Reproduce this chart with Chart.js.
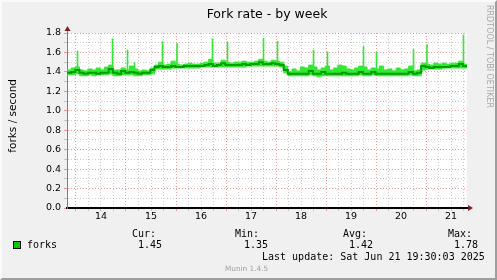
<!DOCTYPE html>
<html>
<head>
<meta charset="utf-8">
<script src="https://cdn.jsdelivr.net/npm/chart.js@4.4.1/dist/chart.umd.min.js"></script>
<style>
  html, body { margin: 0; padding: 0; background: #f0f0f0; }
  #wrap { position: relative; width: 497px; height: 280px; background: #f0f0f0; overflow: hidden; }
  #wrap canvas { position: absolute; left: 0; top: 0; }
  .txt { position: absolute; white-space: pre; color: #000; }
  .mono { font-family: 'DejaVu Sans Mono', monospace; font-size: 10px; line-height: 12px; }
  #frame { position: absolute; left: 0; top: 0; width: 497px; height: 280px; box-sizing: border-box;
           border-style: solid; border-width: 2px; border-color: #fafafa #9e9e9e #9e9e9e #fafafa; pointer-events: none; }
</style>
</head>
<body>
<div id="wrap">
  <canvas id="chart" width="497" height="280"></canvas>

  <div class="txt" style="left:167px;top:6px;width:200px;text-align:center;font:12.5px 'DejaVu Sans';line-height:15px;">Fork rate - by week</div>
  <div class="txt" style="left:6px;top:79px;writing-mode:vertical-rl;transform:rotate(180deg);font:10.5px 'DejaVu Sans';line-height:12px;">forks / second</div>
  <div class="txt" style="left:484px;top:5px;writing-mode:vertical-rl;font:8px 'DejaVu Sans';line-height:10px;color:#a8a8a8;">RRDTOOL / TOBI OETIKER</div>

  <div style="position:absolute;left:13px;top:241px;width:6px;height:6px;border:1px solid #000;background:#00cc00;"></div>
  <div class="txt mono" style="left:27px;top:238.5px;">forks</div>
  <div class="txt mono" style="left:132px;top:227.5px;">Cur:</div>
  <div class="txt mono" style="left:138px;top:238.5px;">1.45</div>
  <div class="txt mono" style="left:235px;top:227.5px;">Min:</div>
  <div class="txt mono" style="left:244px;top:238.5px;">1.35</div>
  <div class="txt mono" style="left:343px;top:227.5px;">Avg:</div>
  <div class="txt mono" style="left:349px;top:238.5px;">1.42</div>
  <div class="txt mono" style="left:448px;top:227.5px;">Max:</div>
  <div class="txt mono" style="left:454px;top:238.5px;">1.78</div>
  <div class="txt mono" style="left:262px;top:251px;">Last update: Sat Jun 21 19:30:03 2025</div>
  <div class="txt" style="left:225px;top:264px;font:7.3px 'DejaVu Sans';line-height:9px;color:#a0a0a0;">Munin 1.4.5</div>

  <div id="frame"></div>
</div>

<script>
// time axis: day of month, midnight = whole number
const xMin = 13.82;
const xMax = 21.82;
const sampleStart = 13.82;
const sampleStep = 1 / 12; // one sample every 2 hours
const dayLabels = ['14', '15', '16', '17', '18', '19', '20', '21'];

// 2-hourly averages (dark line)
const forksAvg = [
  1.39, 1.39, 1.40, 1.42, 1.39, 1.38, 1.39, 1.39, 1.38, 1.39, 1.39, 1.43, 1.39, 1.38, 1.41, 1.39, 1.40, 1.39, 1.38, 1.39, 1.39, 1.42,
  1.45, 1.46, 1.45, 1.45, 1.46, 1.45, 1.45, 1.46, 1.46, 1.46, 1.46, 1.46, 1.47, 1.48, 1.46, 1.47, 1.49, 1.47, 1.47, 1.47, 1.47, 1.48, 1.47, 1.48, 1.48, 1.50, 1.48, 1.48, 1.49, 1.48, 1.47, 1.42,
  1.38, 1.38, 1.38, 1.38, 1.38, 1.41, 1.38, 1.38, 1.40, 1.38, 1.38, 1.38, 1.38, 1.39, 1.38, 1.38, 1.38, 1.40, 1.38, 1.38, 1.40, 1.38, 1.38, 1.38, 1.38, 1.38, 1.38, 1.38, 1.38, 1.40, 1.38, 1.39,
  1.46, 1.45, 1.44, 1.45, 1.45, 1.45, 1.45, 1.46, 1.46, 1.48, 1.46
];
// upper edge of the light band
const forksHigh = [
  1.41, 1.42, 1.44, 1.45, 1.42, 1.41, 1.43, 1.42, 1.44, 1.42, 1.45, 1.47, 1.42, 1.42, 1.44, 1.42, 1.46, 1.43, 1.41, 1.42, 1.41, 1.44,
  1.47, 1.50, 1.47, 1.48, 1.51, 1.48, 1.47, 1.48, 1.49, 1.48, 1.48, 1.49, 1.50, 1.53, 1.49, 1.49, 1.52, 1.50, 1.49, 1.50, 1.50, 1.51, 1.50, 1.50, 1.51, 1.53, 1.51, 1.50, 1.52, 1.51, 1.50, 1.46,
  1.40, 1.43, 1.41, 1.45, 1.44, 1.47, 1.45, 1.42, 1.44, 1.46, 1.42, 1.44, 1.47, 1.46, 1.43, 1.42, 1.44, 1.46, 1.45, 1.42, 1.44, 1.43, 1.46, 1.42, 1.43, 1.41, 1.44, 1.42, 1.43, 1.46, 1.41, 1.42,
  1.49, 1.48, 1.47, 1.49, 1.48, 1.49, 1.48, 1.49, 1.49, 1.51, 1.48
];
// lower edge of the light band
const forksLow = [
  1.37, 1.37, 1.37, 1.38, 1.36, 1.36, 1.37, 1.36, 1.37, 1.37, 1.37, 1.38, 1.36, 1.36, 1.37, 1.37, 1.37, 1.36, 1.36, 1.37, 1.37, 1.38,
  1.43, 1.43, 1.43, 1.43, 1.44, 1.44, 1.44, 1.44, 1.44, 1.44, 1.44, 1.45, 1.45, 1.45, 1.45, 1.45, 1.45, 1.45, 1.45, 1.45, 1.45, 1.45, 1.46, 1.46, 1.46, 1.46, 1.46, 1.46, 1.46, 1.46, 1.45, 1.39,
  1.36, 1.36, 1.36, 1.36, 1.36, 1.37, 1.36, 1.35, 1.36, 1.36, 1.36, 1.36, 1.36, 1.36, 1.36, 1.36, 1.36, 1.37, 1.36, 1.36, 1.37, 1.36, 1.36, 1.36, 1.36, 1.36, 1.36, 1.36, 1.36, 1.37, 1.36, 1.36,
  1.42, 1.43, 1.43, 1.43, 1.43, 1.44, 1.44, 1.44, 1.44, 1.44, 1.44
];

// short peaks (twice a day)
const spikeTimes = [14.03, 14.73, 15.03, 15.17, 15.73, 16.02, 16.73, 17.03, 17.75, 18.03, 18.75, 19.03, 19.75, 20.01, 20.75, 21.02, 21.75];
const spikeBase  = [1.40, 1.43, 1.41, 1.40, 1.46, 1.46, 1.48, 1.49, 1.50, 1.49, 1.41, 1.40, 1.40, 1.40, 1.40, 1.46, 1.48];
const spikeTop   = [1.615, 1.74, 1.625, 1.495, 1.71, 1.69, 1.74, 1.71, 1.745, 1.715, 1.625, 1.605, 1.66, 1.60, 1.63, 1.68, 1.78];

const bandColor = '#33e833';
const lineColor = '#009f00';

const toPoints = arr => arr.map((v, i) => ({ x: sampleStart + i * sampleStep, y: v }));

const rrdPlugin = {
  id: 'rrd',
  beforeDraw(chart) {
    const { ctx, chartArea: a } = chart;
    ctx.save();
    ctx.fillStyle = '#ffffff';
    ctx.fillRect(a.left, a.top, a.right - a.left, a.bottom - a.top);
    ctx.restore();
  },
  afterDraw(chart) {
    const { ctx, chartArea: a } = chart;
    ctx.save();
    // axis stubs beyond the canvas
    ctx.strokeStyle = '#7f7f7f';
    ctx.lineWidth = 1;
    ctx.beginPath();
    ctx.moveTo(a.left + 0.5, a.top);
    ctx.lineTo(a.left + 0.5, a.top - 3);
    ctx.stroke();
    ctx.strokeStyle = '#000';
    ctx.lineWidth = 2;
    ctx.beginPath();
    ctx.moveTo(a.right, a.bottom);
    ctx.lineTo(a.right + 2, a.bottom);
    ctx.stroke();
    // arrows
    ctx.fillStyle = '#7f1f1f';
    ctx.beginPath();
    ctx.moveTo(a.left + 0.5, a.top - 7);
    ctx.lineTo(a.left - 2.5, a.top - 2);
    ctx.lineTo(a.left + 3.5, a.top - 2);
    ctx.closePath();
    ctx.fill();
    ctx.beginPath();
    ctx.moveTo(a.right + 6, a.bottom);
    ctx.lineTo(a.right + 1, a.bottom - 3);
    ctx.lineTo(a.right + 1, a.bottom + 3);
    ctx.closePath();
    ctx.fill();
    ctx.restore();
  }
};

const minorGrid = 'rgba(143,143,143,0.45)';
const majorGrid = 'rgba(222,80,80,0.55)';

new Chart(document.getElementById('chart'), {
  type: 'line',
  data: {
    datasets: [
      {
        label: 'forks',
        data: toPoints(forksAvg),
        borderColor: lineColor,
        borderWidth: 2,
        stepped: 'after',
        pointRadius: 0,
        fill: false,
        order: 0
      },
      {
        type: 'bar',
        label: 'peaks',
        data: spikeTimes.map((t, i) => ({ x: t, y: [spikeBase[i], spikeTop[i]] })),
        backgroundColor: bandColor,
        borderWidth: 0,
        barThickness: 1,
        grouped: false,
        order: 1
      },
      {
        label: 'high',
        data: toPoints(forksHigh),
        borderColor: bandColor,
        backgroundColor: bandColor,
        borderWidth: 1,
        stepped: 'after',
        pointRadius: 0,
        fill: '+1',
        order: 2
      },
      {
        label: 'low',
        data: toPoints(forksLow),
        borderColor: bandColor,
        borderWidth: 1,
        stepped: 'after',
        pointRadius: 0,
        fill: false,
        order: 3
      }
    ]
  },
  options: {
    responsive: false,
    animation: false,
    events: [],
    layout: { padding: { left: 0, top: 33, right: 30, bottom: 0 } },
    plugins: {
      legend: { display: false },
      tooltip: { enabled: false }
    },
    scales: {
      x: {
        type: 'linear',
        min: xMin,
        max: xMax,
        offset: false,
        afterFit: s => { s.height = 72; },
        afterBuildTicks: s => {
          const ticks = [];
          for (let d = Math.ceil(xMin * 4) / 4; d <= xMax; d += 0.25) ticks.push({ value: d });
          s.ticks = ticks;
        },
        ticks: {
          autoSkip: false,
          maxRotation: 0,
          padding: 0,
          color: '#000',
          font: { family: 'DejaVu Sans', size: 9.5 },
          callback: v => {
            const day = Math.floor(v + 1e-6);
            if (Math.abs(v - day - 0.5) > 1e-6) return '';
            return dayLabels[day - 14] || '';
          }
        },
        grid: {
          offset: false,
          tickLength: 3,
          color: c => Math.abs(c.tick.value - Math.round(c.tick.value)) < 1e-6 ? majorGrid : minorGrid
        },
        border: { display: true, color: '#000', width: 2, dash: [1, 2] }
      },
      y: {
        min: 0,
        max: 1.8,
        afterFit: s => { s.width = 67; },
        afterBuildTicks: s => {
          const ticks = [];
          for (let k = 0; k <= 18; k++) ticks.push({ value: k / 10 });
          s.ticks = ticks;
        },
        ticks: {
          autoSkip: false,
          padding: 3,
          color: '#000',
          font: { family: 'DejaVu Sans', size: 9.5 },
          callback: v => (Math.round(v * 10) % 2 === 0 ? v.toFixed(1) : '')
        },
        grid: {
          tickLength: 3,
          color: c => Math.round(c.tick.value * 10) % 2 === 0 ? majorGrid : minorGrid
        },
        border: { display: true, color: '#7f7f7f', width: 1, dash: [1, 2] }
      }
    }
  },
  plugins: [rrdPlugin]
});
</script>
</body>
</html>
